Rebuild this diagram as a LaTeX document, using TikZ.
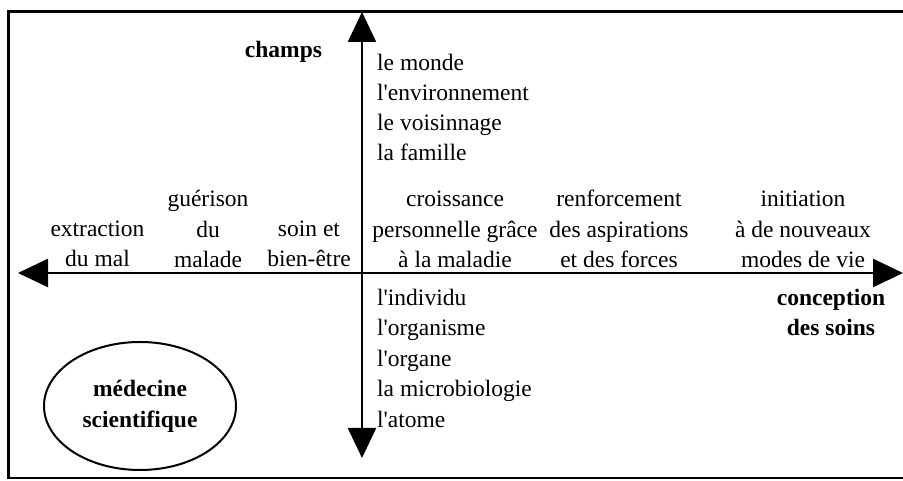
\documentclass[tikz,border=0pt]{standalone}
\usepackage{fontspec}
\setmainfont{Liberation Serif}
\usetikzlibrary{arrows.meta,shapes.geometric}
\newcommand{\apos}{\textquotesingle}
% fixed-height strut so that every block's top edge sits 17pt above its first baseline
\newcommand{\topstrut}{\rule{0pt}{17pt}}
\begin{document}
\begin{tikzpicture}[x=1pt,y=1pt,
  txt/.style={inner sep=0pt, font=\fontsize{23.5}{30.5}\selectfont},
  lbl/.style={txt, align=center, anchor=north},
  lst/.style={txt, align=left, anchor=north west},
  bld/.style={lbl, font=\fontsize{23.5}{30.5}\selectfont\bfseries},
  axis/.style={line width=2.4pt, {Triangle[length=30pt,width=28pt]}-{Triangle[length=30pt,width=28pt]}},
  frame/.style={line width=2.2pt}]
\useasboundingbox (0,0) rectangle (903,481);
\fill[white] (0,0) rectangle (903,481);

% outer frame (its right side lies beyond the page edge)
\draw[frame] (910,469.5) -- (8.5,469.5) -- (8.5,3) -- (910,3);

% axes
\coordinate (top) at (362,469);
\coordinate (bottom) at (362,23);
\coordinate (left) at (18,208);
\coordinate (right) at (903,208);
\draw[axis] (bottom) -- (top);
\draw[axis] (left) -- (right);

% axis titles
\node[bld] (champs) at (283.5,441) {\topstrut champs};
\node[bld] (conception) at (831,193) {\topstrut conception\\des soins};

% fields, upper half
\node[lst, font=\fontsize{23.5}{30}\selectfont] (monde) at (377,428)
  {\topstrut le monde\\l\apos environnement\\le voisinnage\\la famille};

% fields, lower half
\node[lst] (individu) at (377,193)
  {\topstrut l\apos individu\\l\apos organisme\\l\apos organe\\la microbiologie\\l\apos atome};

% conceptions of care along the horizontal axis
\node[lbl] (extraction) at (97.5,262) {\topstrut extraction\\du mal};
\node[lbl] (guerison) at (208,291.5) {\topstrut guérison\\du\\malade};
\node[lbl] (soin) at (309,262) {\topstrut soin et\\bien-être};
\node[lbl] (croissance) at (455,291.5) {\topstrut croissance\\personnelle grâce\\à la maladie};
\node[lbl] (renforcement) at (619,291.5) {\topstrut renforcement\\des aspirations\\et des forces};
\node[lbl] (initiation) at (803,291.5) {\topstrut initiation\\à de nouveaux\\modes de vie};

% scientific medicine
\node[draw, ellipse, line width=2pt, minimum width=192pt, minimum height=128pt,
      inner sep=0pt, align=center, font=\fontsize{23.5}{31}\selectfont\bfseries]
      (medecine) at (140,75) {médecine\\scientifique};
\end{tikzpicture}
\end{document}
